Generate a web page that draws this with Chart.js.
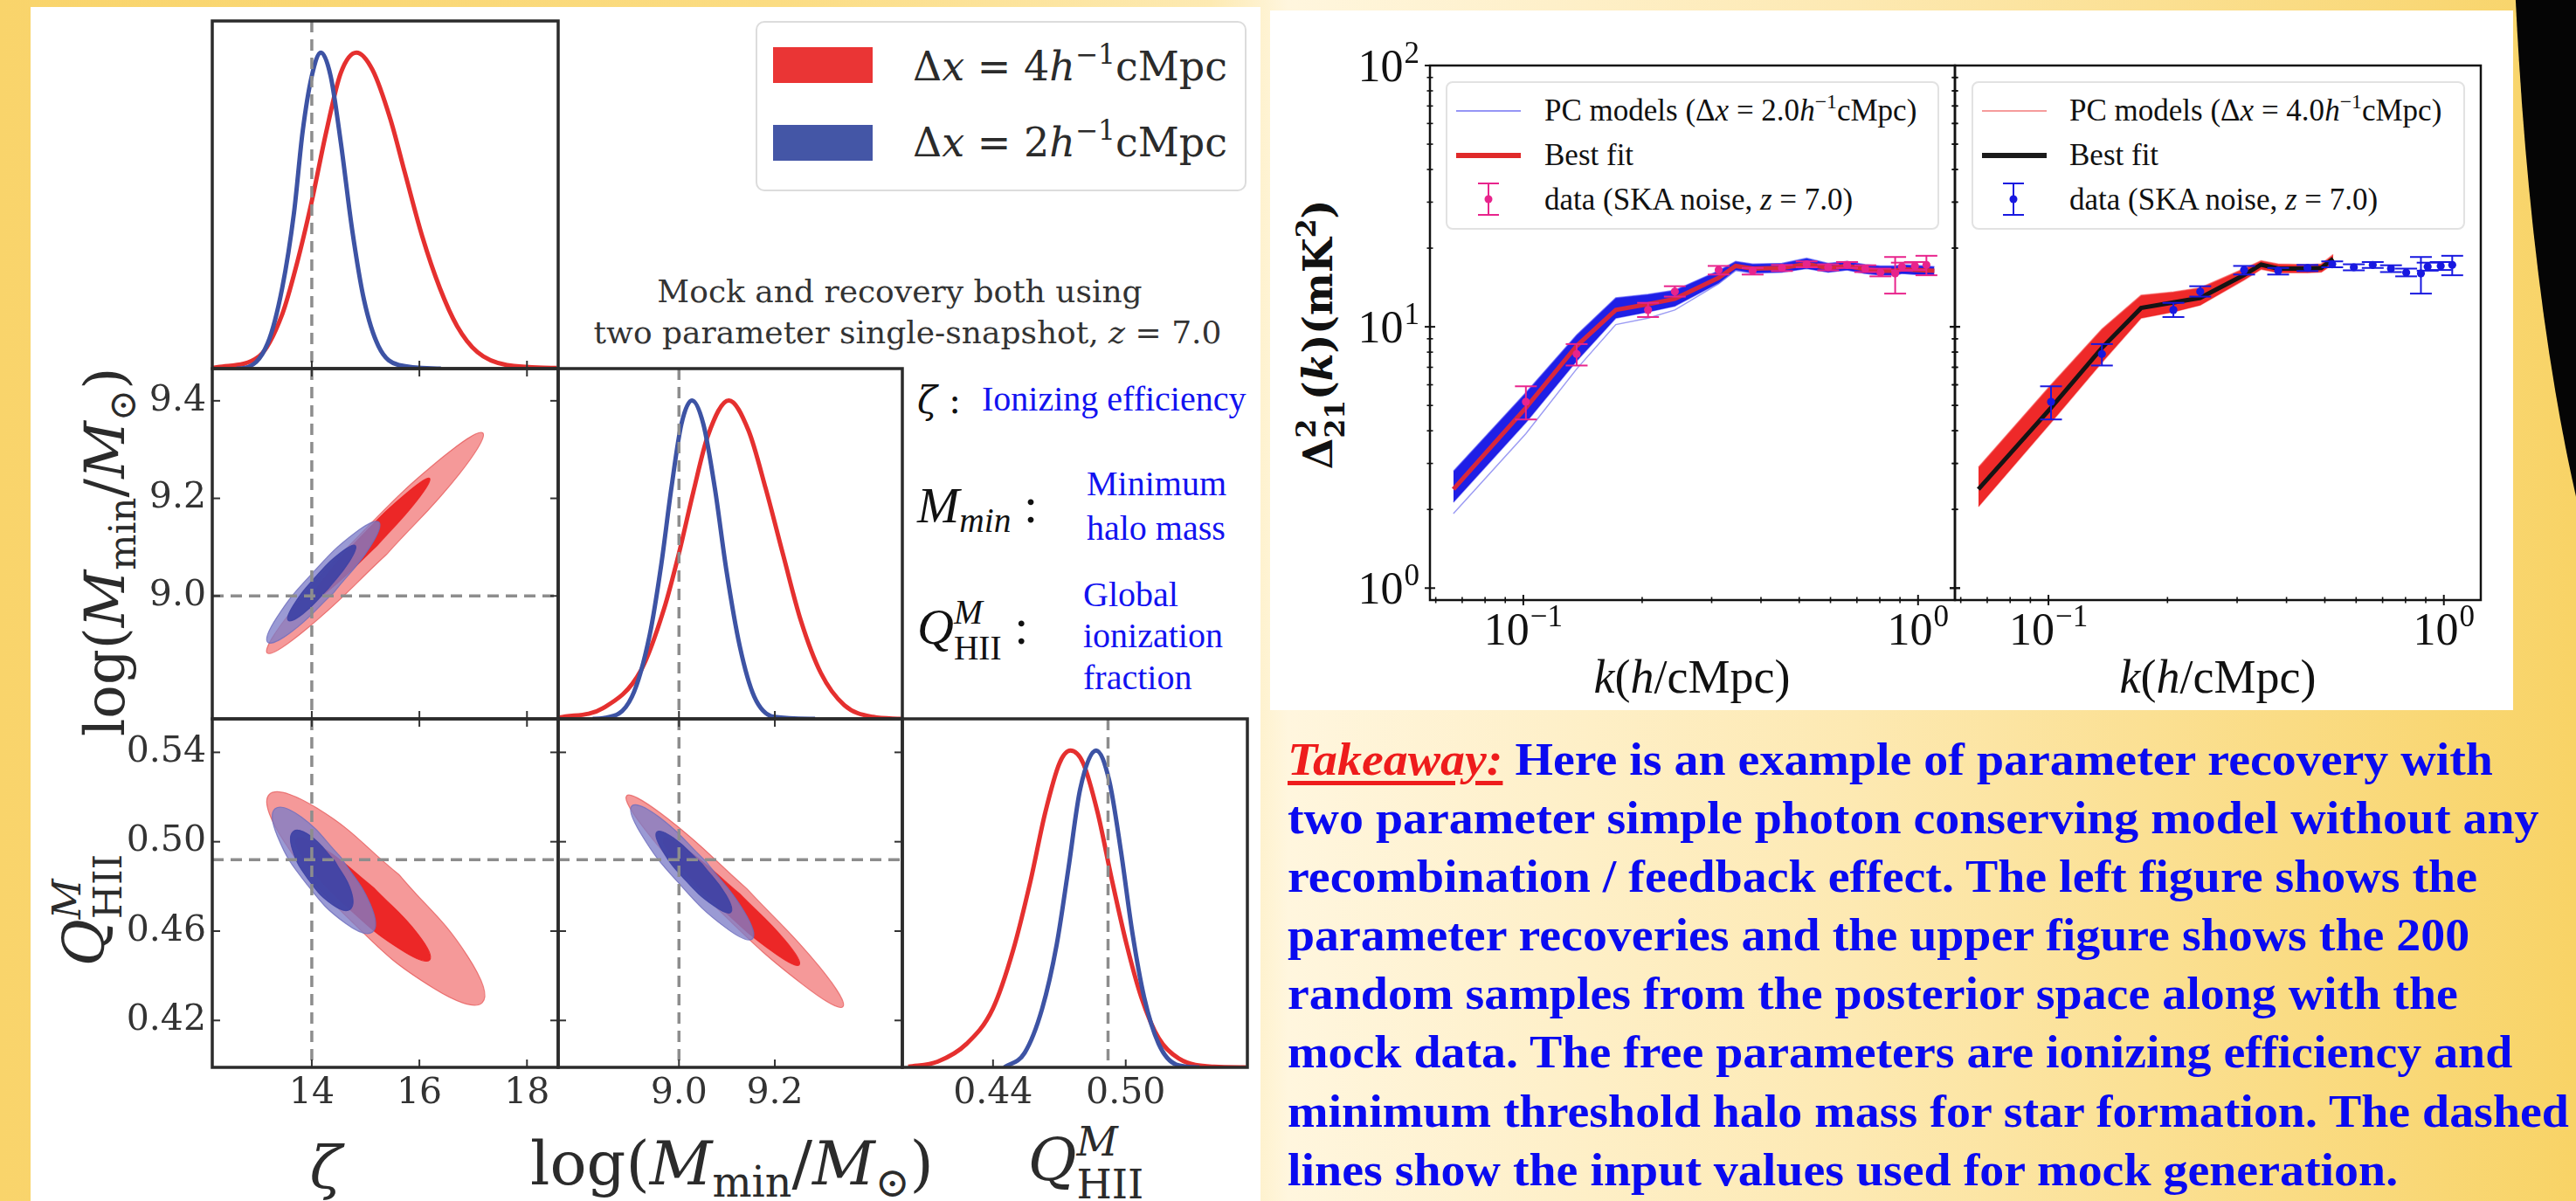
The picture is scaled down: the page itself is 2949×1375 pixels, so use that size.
<!DOCTYPE html>
<html>
<head>
<meta charset="utf-8">
<script src="https://cdn.jsdelivr.net/npm/chart.js@4.4.1/dist/chart.umd.min.js"></script>
<style>
  body { margin: 0; width: 2949px; height: 1375px; position: relative; overflow: hidden;
    background: linear-gradient(90deg, #f9d46b 0%, #fbdc82 30%, #fdeab2 47%, #fff6de 50%, #fde9b2 72%, #f8d366 100%); }
  .panel { position: absolute; background: #fff; }
  .t { position: absolute; white-space: nowrap; }
  canvas { position: absolute; }
  .dj { font-family: 'DejaVu Serif', serif; color: #2b2b2b; }
  .tm { font-family: 'Liberation Serif', 'Times New Roman', serif; color: #111; }
  .rot { transform: translate(-50%, -50%) rotate(-90deg); }
  .ctr { transform: translate(-50%, -50%); }
  .vc { transform: translateY(-50%); }
  sup { font-size: 0.68em; vertical-align: 0.6em; line-height: 0; }
  sub { font-size: 0.68em; vertical-align: -0.3em; line-height: 0; }
  .ss { display: inline-block; vertical-align: -0.45em; font-size: 0.68em; line-height: 1.05; text-align: left; }
  .ss > span, .ss > i { display: block; }
  .blue { color: #1212f0; font-family: 'Liberation Serif', serif; font-size: 40px; }
</style>
</head>
<body>

<div class="panel" style="left:35px;top:8px;width:1408px;height:1367px"></div>
<div class="panel" style="left:1454px;top:12px;width:1423px;height:801px"></div>
<div style="position:absolute;left:2874px;top:-1350px;width:452px;height:2200px;border-radius:50%;background:#050505"></div>

<!-- corner plot legend -->
<div style="position:absolute;left:865px;top:24px;width:562px;height:195px;border:2px solid #dcdcdc;border-radius:10px;box-sizing:border-box;background:#fff"></div>
<div style="position:absolute;left:885px;top:54px;width:114px;height:41px;background:#ea3535"></div>
<div style="position:absolute;left:885px;top:143px;width:114px;height:41px;background:#4456a6"></div>
<div class="t dj vc" style="left:1045px;top:76px;font-size:46px">Δ<i>x</i> = 4<i>h</i><sup>−1</sup>cMpc</div>
<div class="t dj vc" style="left:1045px;top:163px;font-size:46px">Δ<i>x</i> = 2<i>h</i><sup>−1</sup>cMpc</div>

<div class="t dj ctr" style="left:1030px;top:333px;font-size:36px;color:#333">Mock and recovery both using</div>
<div class="t dj ctr" style="left:1039px;top:380px;font-size:36px;color:#333">two parameter single-snapshot, <i>z</i> = 7.0</div>

<div class="t dj vc" style="left:1050px;top:458px;font-size:42px;color:#111"><i>ζ</i> :</div>
<div class="t blue vc" style="left:1124px;top:456px">Ionizing efficiency</div>
<div class="t tm vc" style="left:1050px;top:578px;font-size:58px"><i>M</i><sub><i>min</i></sub> :</div>
<div class="t blue vc" style="left:1244px;top:553px">Minimum</div>
<div class="t blue vc" style="left:1244px;top:604px">halo mass</div>
<div class="t tm vc" style="left:1050px;top:722px;font-size:58px"><i>Q</i><span class="ss"><i>M</i><span>HII</span></span> :</div>
<div class="t blue vc" style="left:1240px;top:680px">Global</div>
<div class="t blue vc" style="left:1240px;top:727px">ionization</div>
<div class="t blue vc" style="left:1240px;top:775px">fraction</div>

<!-- corner plot axis titles -->
<div class="t dj rot" style="left:120px;top:632px;font-size:64px">log(<i>M</i><sub>min</sub>/<i>M</i><sub>⊙</sub>)</div>
<div class="t dj rot" style="left:100px;top:1042px;font-size:66px"><i>Q</i><span class="ss"><i>M</i><span>HII</span></span></div>
<div class="t dj ctr" style="left:373px;top:1336px;font-size:68px"><i>ζ</i></div>
<div class="t dj ctr" style="left:838px;top:1332px;font-size:70px">log(<i>M</i><sub>min</sub>/<i>M</i><sub>⊙</sub>)</div>
<div class="t dj ctr" style="left:1243px;top:1332px;font-size:68px"><i>Q</i><span class="ss"><i>M</i><span>HII</span></span></div>

<!-- power spectrum titles and legends -->
<div class="t rot" style="left:1512px;top:383px;font:bold 46px 'DejaVu Serif';color:#111">Δ<span class="ss"><span>2</span><span>21</span></span>(<i>k</i>)(mK<sup>2</sup>)</div>
<div class="t tm ctr" style="left:1937px;top:775px;font-size:54px"><i>k</i>(<i>h</i>/cMpc)</div>
<div class="t tm ctr" style="left:2539px;top:775px;font-size:54px"><i>k</i>(<i>h</i>/cMpc)</div>

<div style="position:absolute;left:1655px;top:93px;width:565px;height:170px;border:2px solid #e2e2e2;border-radius:8px;box-sizing:border-box;background:#fff"></div>
<div style="position:absolute;left:1667px;top:126px;width:74px;height:2px;background:rgba(80,80,240,0.6)"></div>
<div style="position:absolute;left:1667px;top:175px;width:74px;height:6px;background:#e02a2a"></div>
<svg style="position:absolute;left:1680px;top:200px" width="50" height="56"><g stroke="#e8248c" stroke-width="2"><line x1="24" y1="10" x2="24" y2="46"/><line x1="12" y1="10" x2="36" y2="10"/><line x1="12" y1="46" x2="36" y2="46"/></g><circle cx="24" cy="28" r="4.5" fill="#e8248c"/></svg>
<div class="t tm vc" style="left:1768px;top:127px;font-size:35px">PC models (Δ<i>x</i> = 2.0<i>h</i><sup>−1</sup>cMpc)</div>
<div class="t tm vc" style="left:1768px;top:178px;font-size:35px">Best fit</div>
<div class="t tm vc" style="left:1768px;top:229px;font-size:35px">data (SKA noise, <i>z</i> = 7.0)</div>

<div style="position:absolute;left:2257px;top:93px;width:565px;height:170px;border:2px solid #e2e2e2;border-radius:8px;box-sizing:border-box;background:#fff"></div>
<div style="position:absolute;left:2269px;top:126px;width:74px;height:2px;background:rgba(240,90,90,0.6)"></div>
<div style="position:absolute;left:2269px;top:175px;width:74px;height:6px;background:#1a1a1a"></div>
<svg style="position:absolute;left:2281px;top:200px" width="50" height="56"><g stroke="#1818e0" stroke-width="2"><line x1="24" y1="10" x2="24" y2="46"/><line x1="12" y1="10" x2="36" y2="10"/><line x1="12" y1="46" x2="36" y2="46"/></g><circle cx="24" cy="28" r="4.5" fill="#1818e0"/></svg>
<div class="t tm vc" style="left:2369px;top:127px;font-size:35px">PC models (Δ<i>x</i> = 4.0<i>h</i><sup>−1</sup>cMpc)</div>
<div class="t tm vc" style="left:2369px;top:178px;font-size:35px">Best fit</div>
<div class="t tm vc" style="left:2369px;top:229px;font-size:35px">data (SKA noise, <i>z</i> = 7.0)</div>

<!-- takeaway text -->
<div class="t" style="left:1474px;top:836px;font:bold 53px 'Liberation Serif';line-height:67.1px;color:#0a0af0;transform:scaleX(1.055);transform-origin:0 0">
<span style="color:#ee1c1c;font-style:italic;text-decoration:underline;text-decoration-thickness:5px;text-underline-offset:7px">Takeaway:</span> Here is an example of parameter recovery with<br>
two parameter simple photon conserving model without any<br>
recombination / feedback effect. The left figure shows the<br>
parameter recoveries and the upper figure shows the 200<br>
random samples from the posterior space along with the<br>
mock data. The free parameters are ionizing efficiency and<br>
minimum threshold halo mass for star formation. The dashed<br>
lines show the input values used for mock generation.
</div>

<script>
// ---- corner plot: parameter ranges, ticks, input values ----
const zetaRange = [12.15, 18.58];
const mminRange = [8.748, 9.466];
const qhiiRange = [0.399, 0.555];
const zetaTicks = [14, 16, 18];
const mminTicksX = [9.0, 9.2];
const mminTicksY = [9.0, 9.2, 9.4];
const qhiiTicksX = [0.44, 0.50];
const qhiiTicksY = [0.42, 0.46, 0.50, 0.54];
const zetaTrue = 14;
const mminTrue = 9.0;
const qhiiTrue = 0.492;

// marginal posteriors (peak normalised), dx = 4 (red) and dx = 2 (blue)
const zetaX4 = [12.15, 12.26, 13.02, 13.45, 13.72, 14.0, 14.27, 14.54, 14.83, 15.13, 15.46, 15.73, 16.05, 16.38, 16.7, 17.08, 17.63, 18.55];
const zetaP4 = [0.002, 0.005, 0.039, 0.172, 0.33, 0.53, 0.75, 0.936, 1.0, 0.945, 0.79, 0.62, 0.42, 0.255, 0.135, 0.052, 0.011, 0.002];
const zetaX2 = [12.6, 12.75, 13.18, 13.45, 13.67, 13.83, 14.0, 14.17, 14.35, 14.54, 14.75, 14.97, 15.24, 15.62, 16.4];
const zetaP2 = [0, 0.002, 0.08, 0.255, 0.494, 0.75, 0.926, 1.0, 0.926, 0.715, 0.44, 0.218, 0.071, 0.011, 0];
const mminX4 = [8.751, 8.842, 8.921, 8.969, 9.0, 9.03, 9.06, 9.104, 9.145, 9.181, 9.218, 9.254, 9.296, 9.345, 9.405, 9.463];
const mminP4 = [0.004, 0.034, 0.153, 0.346, 0.52, 0.713, 0.888, 1.0, 0.906, 0.723, 0.511, 0.31, 0.144, 0.043, 0.006, 0];
const mminX2 = [8.82, 8.842, 8.902, 8.939, 8.963, 8.984, 9.005, 9.027, 9.051, 9.075, 9.099, 9.127, 9.157, 9.199, 9.284];
const mminP2 = [0, 0.002, 0.07, 0.264, 0.484, 0.723, 0.925, 1.0, 0.925, 0.723, 0.466, 0.227, 0.07, 0.006, 0];
const qhiiX4 = [0.4017, 0.4149, 0.428, 0.4399, 0.4491, 0.457, 0.4636, 0.4701, 0.475, 0.4807, 0.4873, 0.4938, 0.5004, 0.507, 0.5149, 0.524, 0.5399, 0.5544];
const qhiiP4 = [0.002, 0.018, 0.074, 0.185, 0.37, 0.59, 0.804, 0.961, 1.0, 0.961, 0.804, 0.59, 0.388, 0.222, 0.092, 0.028, 0.002, 0];
const qhiiX2 = [0.4451, 0.4543, 0.4622, 0.4688, 0.4741, 0.4794, 0.4866, 0.4925, 0.4978, 0.503, 0.5083, 0.5149, 0.5228, 0.5333];
const qhiiP2 = [0, 0.046, 0.185, 0.388, 0.628, 0.878, 1.0, 0.906, 0.684, 0.425, 0.222, 0.074, 0.009, 0];

// 2D credible contours (68% inner, 95% outer), boundary points
const zmRed95 = [[17.18, 9.334], [16.75, 9.251], [15.39, 9.085], [13.91, 8.933], [13.17, 8.883], [13.60, 8.966], [14.96, 9.133], [16.44, 9.285]];
const zmRed68 = [[16.19, 9.241], [15.95, 9.195], [15.21, 9.103], [14.40, 9.019], [14.0, 8.991], [14.24, 9.037], [14.98, 9.129], [15.79, 9.213]];
const zmBlue95 = [[15.25, 9.151], [15.08, 9.100], [14.41, 9.007], [13.62, 8.926], [13.18, 8.905], [13.35, 8.956], [14.03, 9.049], [14.81, 9.130]];
const zmBlue68 = [[14.81, 9.103], [14.70, 9.071], [14.30, 9.014], [13.83, 8.963], [13.56, 8.950], [13.66, 8.981], [14.07, 9.039], [14.54, 9.089]];
const zqRed95 = [[17.17, 0.4280], [16.89, 0.4490], [15.63, 0.4851], [14.10, 0.5150], [13.21, 0.5212], [13.48, 0.5003], [14.75, 0.4641], [16.28, 0.4342]];
const zqRed68 = [[16.19, 0.4471], [15.97, 0.4587], [15.15, 0.4794], [14.22, 0.4970], [13.72, 0.5012], [13.94, 0.4895], [14.75, 0.4688], [15.69, 0.4512]];
const zqBlue95 = [[15.13, 0.4596], [15.09, 0.4719], [14.54, 0.4931], [13.81, 0.5110], [13.32, 0.5148], [13.36, 0.5025], [13.90, 0.4812], [14.63, 0.4634]];
const zqBlue68 = [[14.71, 0.4697], [14.73, 0.4779], [14.43, 0.4913], [13.98, 0.5025], [13.66, 0.5047], [13.64, 0.4965], [13.94, 0.4830], [14.38, 0.4719]];
const mqRed95 = [[9.342, 0.4261], [9.294, 0.4438], [9.142, 0.4789], [8.975, 0.5106], [8.891, 0.5206], [8.939, 0.5028], [9.091, 0.4678], [9.258, 0.4361]];
const mqRed68 = [[9.251, 0.4449], [9.221, 0.4559], [9.126, 0.4768], [9.021, 0.4957], [8.968, 0.5013], [8.998, 0.4903], [9.093, 0.4693], [9.198, 0.4504]];
const mqBlue95 = [[9.153, 0.4565], [9.136, 0.4688], [9.055, 0.4915], [8.959, 0.5110], [8.902, 0.5161], [8.920, 0.5038], [9.001, 0.4811], [9.097, 0.4616]];
const mqBlue68 = [[9.108, 0.4684], [9.098, 0.4762], [9.049, 0.4899], [8.989, 0.5016], [8.954, 0.5044], [8.964, 0.4966], [9.013, 0.4829], [9.073, 0.4713]];

// ---- power spectrum panels ----
const kRange = [0.058, 1.24];
const pRange = [0.9, 100];
const psXTicks = [0.1, 1];
const psYTicks = [1, 10, 100];
const psXMinor = [0.06, 0.07, 0.08, 0.09, 0.2, 0.3, 0.4, 0.5, 0.6, 0.7, 0.8, 0.9];
const psYMinor = [2, 3, 4, 5, 6, 7, 8, 9, 20, 30, 40, 50, 60, 70, 80, 90];

// mock data (SKA noise, z = 7)
const kData = [0.1015, 0.1365, 0.207, 0.242, 0.3125, 0.381, 0.452, 0.522, 0.592, 0.661, 0.735, 0.803, 0.875, 0.91, 0.982, 1.05];
const pData = [5.16, 7.87, 11.6, 13.65, 16.5, 16.4, 16.8, 17.35, 16.9, 17.25, 16.7, 16.15, 16.0, 17.0, 17.1, 17.25];
const pErrLo = [4.42, 7.11, 10.9, 13.05, 15.85, 15.85, 16.35, 16.9, 16.45, 16.8, 16.2, 15.6, 13.4, 16.4, 16.5, 15.75];
const pErrHi = [5.92, 8.59, 12.35, 14.3, 17.1, 16.8, 17.25, 17.8, 17.35, 17.7, 17.2, 16.7, 18.5, 17.6, 17.7, 18.7];

// dx = 2 models: best fit, envelope of the 200 samples, one outlying sample
const kModel2 = [0.0665, 0.1015, 0.1365, 0.1715, 0.207, 0.242, 0.3125, 0.345, 0.381, 0.452, 0.522, 0.592, 0.661, 0.735, 0.803, 0.875, 0.91, 0.982, 1.10];
const best2 = [2.39, 4.9, 8.45, 11.6, 12.2, 12.8, 15.4, 17.1, 16.7, 16.8, 17.4, 16.8, 17.1, 16.6, 16.4, 16.4, 16.6, 16.5, 16.4];
const band2Hi = [2.8, 5.6, 9.3, 12.9, 13.3, 13.8, 16.4, 17.8, 17.4, 17.5, 18.3, 17.5, 17.8, 17.3, 17.1, 17.1, 17.3, 17.2, 17.0];
const band2Lo = [2.13, 4.3, 7.4, 10.8, 11.4, 12.0, 14.7, 16.5, 16.1, 16.2, 16.7, 16.2, 16.5, 16.0, 15.8, 15.8, 16.0, 15.9, 15.8];
const outlier2 = [1.93, 3.9, 6.9, 10.2, 10.8, 11.6, 14.6, 16.4, 16.0, 16.2, 16.8, 16.2, 16.5, 16.0, 15.8, 15.8, 16.0, 15.9, 15.8];

// dx = 4 models
const kModel4 = [0.0665, 0.1015, 0.1365, 0.1715, 0.207, 0.242, 0.3125, 0.345, 0.381, 0.452, 0.49, 0.525];
const best4 = [2.39, 4.9, 8.3, 11.8, 12.4, 12.9, 15.8, 17.3, 16.7, 16.7, 16.8, 18.2];
const band4Hi = [2.9, 6.0, 9.8, 13.2, 13.6, 14.1, 16.7, 17.9, 17.4, 17.3, 17.4, 18.9];
const band4Lo = [2.05, 4.3, 7.3, 10.8, 11.4, 12.1, 15.1, 16.6, 16.1, 16.1, 16.2, 17.4];

const RED = '#e5302f';
const BLUE = '#3d53a4';

const toXY = (xs, ys) => xs.map((v, i) => ({ x: v, y: ys[i] }));

function seg(ctx, x1, y1, x2, y2) {
  ctx.beginPath(); ctx.moveTo(x1, y1); ctx.lineTo(x2, y2); ctx.stroke();
}

function placeCanvas(rect, pad) {
  const c = document.createElement('canvas');
  const w = rect[2] - rect[0] + pad.left + pad.right;
  const h = rect[3] - rect[1] + pad.top + pad.bottom;
  c.width = w; c.height = h;
  c.style.width = w + 'px'; c.style.height = h + 'px';
  c.style.left = (rect[0] - pad.left) + 'px';
  c.style.top = (rect[1] - pad.top) + 'px';
  document.body.appendChild(c);
  return c;
}

// frame, inward ticks, truth lines and tick labels for the corner panels
const cornerDeco = {
  id: 'cornerDeco',
  afterDatasetsDraw(chart, args, o) {
    const { ctx, chartArea: a, scales: { x, y } } = chart;
    ctx.save();
    ctx.strokeStyle = '#8d8d8d'; ctx.lineWidth = 3.5; ctx.setLineDash([13, 8]);
    (o.vLines || []).forEach(v => { const p = x.getPixelForValue(v); seg(ctx, p, a.top, p, a.bottom); });
    (o.hLines || []).forEach(v => { const p = y.getPixelForValue(v); seg(ctx, a.left, p, a.right, p); });
    ctx.setLineDash([]);
    ctx.strokeStyle = '#333'; ctx.lineWidth = 2;
    (o.xTicks || []).forEach(v => {
      const p = x.getPixelForValue(v);
      seg(ctx, p, a.bottom, p, a.bottom - 9);
      if (o.full) seg(ctx, p, a.top, p, a.top + 9);
    });
    (o.yTicks || []).forEach(v => {
      const p = y.getPixelForValue(v);
      seg(ctx, a.left, p, a.left + 9, p); seg(ctx, a.right, p, a.right - 9, p);
    });
    ctx.strokeStyle = '#2b2b2b'; ctx.lineWidth = 3.5;
    ctx.strokeRect(a.left, a.top, a.right - a.left, a.bottom - a.top);
    ctx.fillStyle = '#333'; ctx.font = '41px "DejaVu Serif"';
    if (o.xLabels) {
      ctx.textAlign = 'center'; ctx.textBaseline = 'middle';
      o.xTicks.forEach(v => ctx.fillText(v.toFixed(o.xDec), x.getPixelForValue(v), a.bottom + 30));
    }
    if (o.yLabels) {
      ctx.textAlign = 'right'; ctx.textBaseline = 'middle';
      o.yTicks.forEach(v => ctx.fillText(v.toFixed(o.yDec), a.left - 7, y.getPixelForValue(v)));
    }
    ctx.restore();
  }
};

function baseOptions(xr, yr, pad, deco, xType, yType) {
  return {
    responsive: false, animation: false, events: [],
    layout: { padding: pad },
    plugins: { legend: { display: false }, tooltip: { enabled: false }, cornerDeco: deco.corner || false, logDeco: deco.log || false },
    scales: {
      x: { type: xType || 'linear', min: xr[0], max: xr[1], display: false },
      y: { type: yType || 'linear', min: yr[0], max: yr[1], display: false }
    }
  };
}

function curve(xs, ys, color, order) {
  return { data: toXY(xs, ys), showLine: true, borderColor: color, borderWidth: 5, pointRadius: 0,
    cubicInterpolationMode: 'monotone', fill: false, order };
}

// closed smooth contour; the loop is started on a flank so both tips stay smooth
function blob(pts, fillColor, edge, order) {
  const loop = pts.slice(2).concat(pts.slice(0, 3));
  const d = loop.map(p => ({ x: p[0], y: p[1] }));
  return { data: d, showLine: true, fill: 'shape', backgroundColor: fillColor, borderColor: edge,
    borderWidth: 1.2, pointRadius: 0, tension: 0.45, order };
}

function contours(r95, r68, b95, b68) {
  return [
    blob(b68, 'rgba(62,66,165,0.92)', 'rgba(62,66,165,0.9)', 0),
    blob(b95, 'rgba(125,125,200,0.78)', 'rgba(110,110,190,0.8)', 1),
    blob(r68, 'rgba(236,34,34,0.95)', 'rgba(236,34,34,0.9)', 2),
    blob(r95, 'rgba(240,105,105,0.68)', 'rgba(228,80,80,0.7)', 3)
  ];
}

function corner(rect, pad, xr, yr, datasets, deco) {
  const c = placeCanvas(rect, pad);
  return new Chart(c, { type: 'scatter', data: { datasets }, options: baseOptions(xr, yr, pad, { corner: deco }), plugins: [cornerDeco] });
}

const histY = [0, 1.1];
const padS = { left: 10, right: 10, top: 10, bottom: 10 };

// zeta marginal
corner([243, 24, 639, 422], padS, zetaRange, histY,
  [curve(zetaX2, zetaP2, BLUE, 0), curve(zetaX4, zetaP4, RED, 1)],
  { vLines: [zetaTrue], xTicks: zetaTicks });
// zeta vs Mmin
corner([243, 422, 639, 823], { left: 130, right: 10, top: 10, bottom: 10 }, zetaRange, mminRange,
  contours(zmRed95, zmRed68, zmBlue95, zmBlue68),
  { vLines: [zetaTrue], hLines: [mminTrue], xTicks: zetaTicks, yTicks: mminTicksY, full: true, yLabels: true, yDec: 1 });
// Mmin marginal
corner([639, 422, 1033, 823], padS, mminRange, histY,
  [curve(mminX2, mminP2, BLUE, 0), curve(mminX4, mminP4, RED, 1)],
  { vLines: [mminTrue], xTicks: mminTicksX });
// zeta vs Q
corner([243, 823, 639, 1222], { left: 130, right: 10, top: 10, bottom: 70 }, zetaRange, qhiiRange,
  contours(zqRed95, zqRed68, zqBlue95, zqBlue68),
  { vLines: [zetaTrue], hLines: [qhiiTrue], xTicks: zetaTicks, yTicks: qhiiTicksY, full: true,
    xLabels: true, xDec: 0, yLabels: true, yDec: 2 });
// Mmin vs Q
corner([639, 823, 1033, 1222], { left: 10, right: 10, top: 10, bottom: 70 }, mminRange, qhiiRange,
  contours(mqRed95, mqRed68, mqBlue95, mqBlue68),
  { vLines: [mminTrue], hLines: [qhiiTrue], xTicks: mminTicksX, yTicks: qhiiTicksY, full: true, xLabels: true, xDec: 1 });
// Q marginal
corner([1033, 823, 1428, 1222], { left: 10, right: 10, top: 10, bottom: 70 }, qhiiRange, histY,
  [curve(qhiiX2, qhiiP2, BLUE, 0), curve(qhiiX4, qhiiP4, RED, 1)],
  { vLines: [qhiiTrue], xTicks: qhiiTicksX, xLabels: true, xDec: 2 });

// ---- power spectrum panels ----
function powTen(ctx, exp, x, y, align) {
  const e = exp < 0 ? '\u2212' + (-exp) : String(exp);
  ctx.font = '52px "Liberation Serif"'; const wb = ctx.measureText('10').width;
  ctx.font = '35px "Liberation Serif"'; const we = ctx.measureText(e).width;
  const x0 = align === 'right' ? x - wb - we - 1 : x - (wb + we + 1) / 2;
  ctx.textAlign = 'left'; ctx.textBaseline = 'alphabetic';
  ctx.font = '52px "Liberation Serif"'; ctx.fillText('10', x0, y);
  ctx.font = '35px "Liberation Serif"'; ctx.fillText(e, x0 + wb + 1, y - 21);
}

const logDeco = {
  id: 'logDeco',
  afterDatasetsDraw(chart, args, o) {
    const { ctx, chartArea: a, scales: { x, y } } = chart;
    ctx.save();
    ctx.strokeStyle = o.errColor; ctx.lineWidth = 2;
    kData.forEach((k, i) => {
      const px = x.getPixelForValue(k), lo = y.getPixelForValue(pErrLo[i]), hi = y.getPixelForValue(pErrHi[i]);
      seg(ctx, px, lo, px, hi); seg(ctx, px - 12.5, lo, px + 12.5, lo); seg(ctx, px - 12.5, hi, px + 12.5, hi);
    });
    ctx.fillStyle = o.errColor;
    kData.forEach((k, i) => {
      ctx.beginPath(); ctx.arc(x.getPixelForValue(k), y.getPixelForValue(pData[i]), 4.6, 0, Math.PI * 2); ctx.fill();
    });
    ctx.strokeStyle = '#111';
    const sides = o.sides;
    psYTicks.forEach(v => { const p = y.getPixelForValue(v); ctx.lineWidth = 2;
      sides.forEach(s => { const e = s === 'l' ? a.left : a.right; seg(ctx, e - 6, p, e + 6, p); }); });
    psYMinor.forEach(v => { const p = y.getPixelForValue(v); ctx.lineWidth = 1.6;
      sides.forEach(s => { const e = s === 'l' ? a.left : a.right; seg(ctx, e - 3.5, p, e + 3.5, p); }); });
    psXTicks.forEach(v => { const p = x.getPixelForValue(v); ctx.lineWidth = 2; seg(ctx, p, a.bottom - 6, p, a.bottom + 6); });
    psXMinor.forEach(v => { const p = x.getPixelForValue(v); ctx.lineWidth = 1.6; seg(ctx, p, a.bottom - 3.5, p, a.bottom + 3.5); });
    ctx.lineWidth = 2.5;
    ctx.strokeRect(a.left, a.top, a.right - a.left, a.bottom - a.top);
    ctx.fillStyle = '#111';
    psXTicks.forEach(v => powTen(ctx, Math.round(Math.log10(v)), x.getPixelForValue(v), a.bottom + 51, 'center'));
    if (o.yLabels) psYTicks.forEach(v => powTen(ctx, Math.round(Math.log10(v)), a.left - 12, y.getPixelForValue(v) + 18, 'right'));
    ctx.restore();
  }
};

function line(xs, ys, color, width, order, extra) {
  return Object.assign({ data: toXY(xs, ys), showLine: true, borderColor: color, borderWidth: width,
    pointRadius: 0, fill: false, order }, extra || {});
}

function spectrum(rect, pad, datasets, deco) {
  const c = placeCanvas(rect, pad);
  return new Chart(c, { type: 'scatter', data: { datasets },
    options: baseOptions(kRange, pRange, pad, { log: deco }, 'logarithmic', 'logarithmic'), plugins: [logDeco] });
}

spectrum([1637, 75, 2238, 687], { left: 190, right: 12, top: 45, bottom: 75 }, [
  line(kModel2, best2, '#d8283c', 5, 0),
  line(kModel2, band2Hi, 'rgba(70,70,245,0.6)', 1.5, 2, { fill: '+1', backgroundColor: 'rgba(12,12,228,0.92)' }),
  line(kModel2, band2Lo, 'rgba(70,70,245,0.6)', 1.5, 3),
  line(kModel2, outlier2, 'rgba(90,90,235,0.6)', 1.5, 4)
], { errColor: '#e8248c', sides: ['l', 'r'], yLabels: true });

spectrum([2238, 75, 2840, 687], { left: 12, right: 12, top: 45, bottom: 75 }, [
  line(kModel4, best4, '#141414', 5, 0),
  line(kModel4, band4Hi, 'rgba(245,80,80,0.6)', 1.5, 2, { fill: '+1', backgroundColor: 'rgba(236,18,18,0.9)' }),
  line(kModel4, band4Lo, 'rgba(245,80,80,0.6)', 1.5, 3)
], { errColor: '#1818e0', sides: ['l'], yLabels: false });
</script>
</body>
</html>
